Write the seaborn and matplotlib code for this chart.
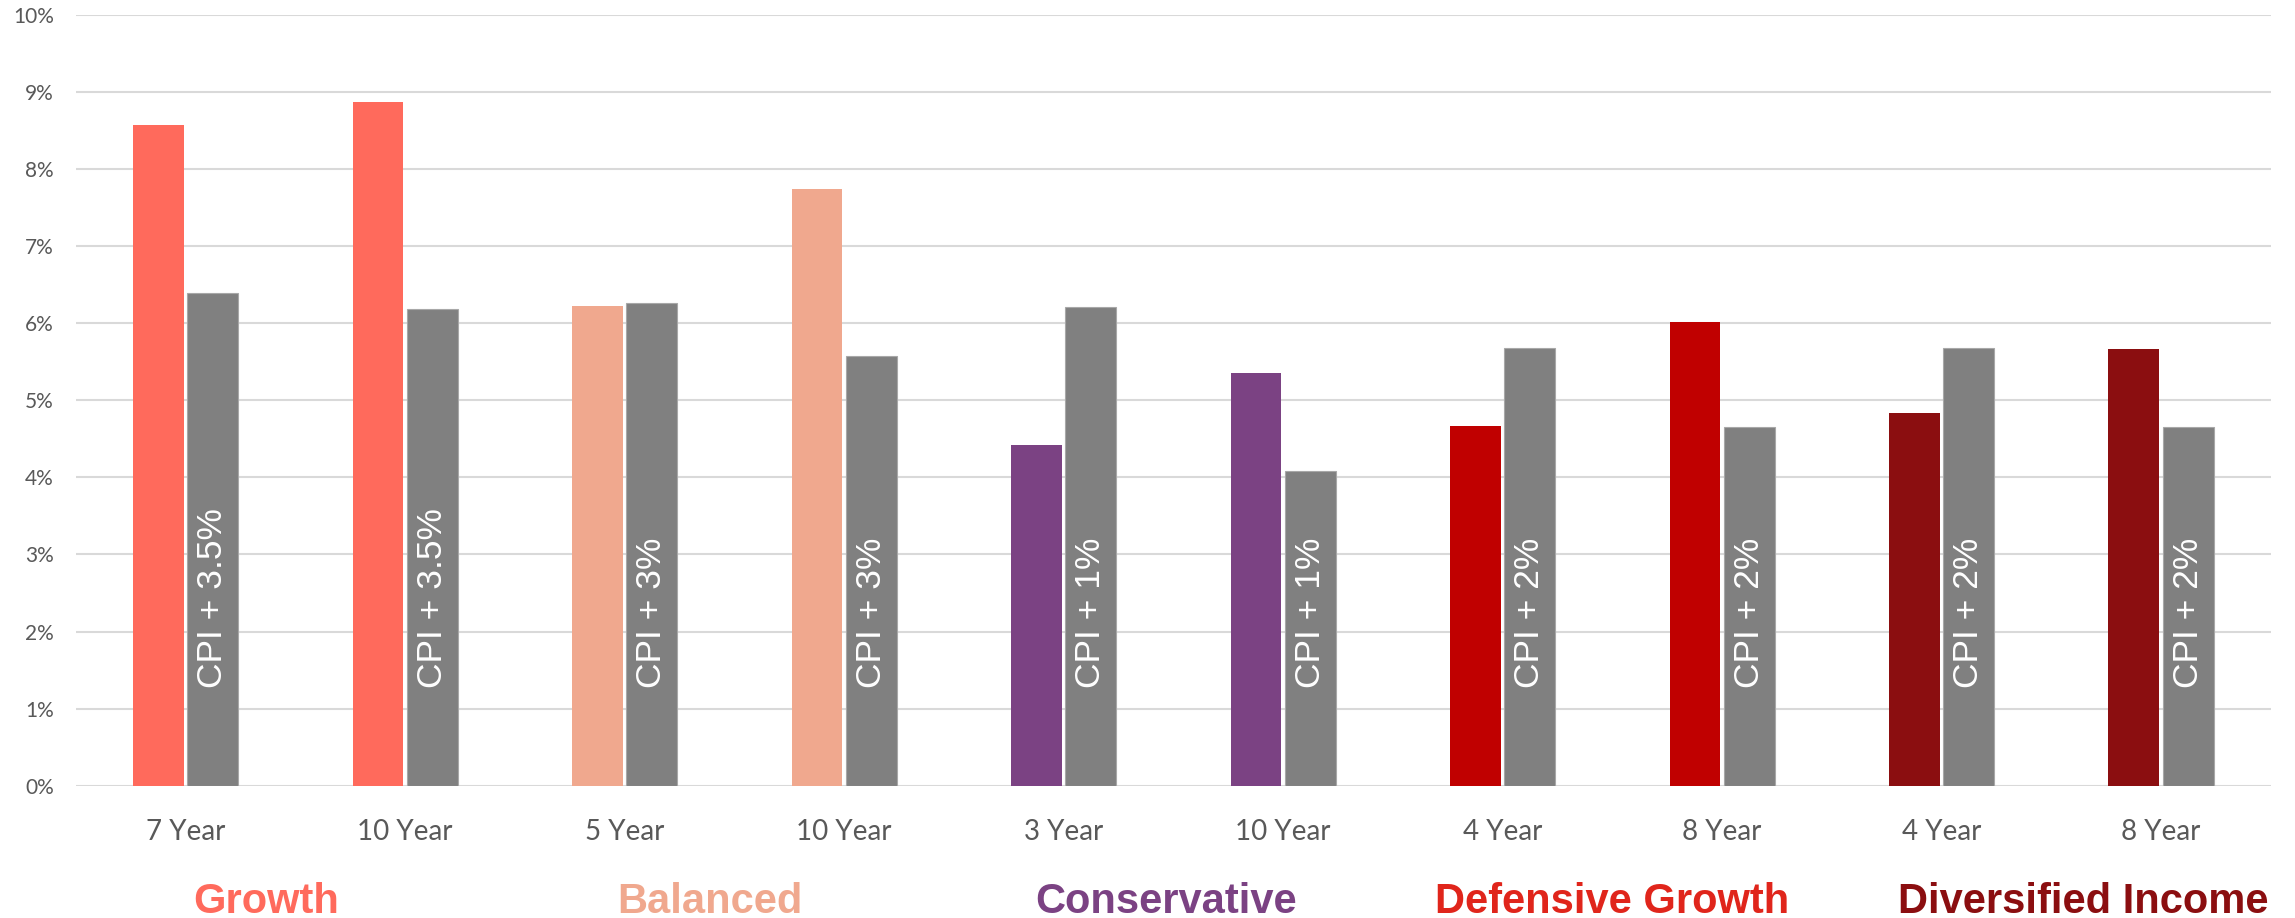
import matplotlib
matplotlib.use("Agg")
import matplotlib.pyplot as plt
import seaborn as sns
import pandas as pd

# Fund returns vs. CPI-linked objectives (annualised, %)
periods = ["7 Year", "10 Year", "5 Year", "10 Year", "3 Year",
           "10 Year", "4 Year", "8 Year", "4 Year", "8 Year"]
fund_return = [8.57, 8.87, 6.23, 7.74, 4.42, 5.35, 4.67, 6.02, 4.83, 5.66]
objective_return = [6.39, 6.19, 6.26, 5.58, 6.21, 4.08, 5.68, 4.66, 5.68, 4.66]
objective_labels = ["CPI + 3.5%", "CPI + 3.5%", "CPI + 3%", "CPI + 3%",
                    "CPI + 1%", "CPI + 1%", "CPI + 2%", "CPI + 2%",
                    "CPI + 2%", "CPI + 2%"]
fund_names = ["Growth", "Balanced", "Conservative",
              "Defensive Growth", "Diversified Income"]
fund_of_period = [0, 0, 1, 1, 2, 2, 3, 3, 4, 4]
y_ticks = [0, 1, 2, 3, 4, 5, 6, 7, 8, 9, 10]

# Styling
bar_colors = ["#FF6A5C", "#F0A88E", "#7B4283", "#C00000", "#8B0E10"]
name_colors = ["#FF6A5C", "#F0A88E", "#7B4283", "#E0251B", "#8B0E10"]
objective_color = "#808080"
name_nudge = [-0.135, -0.11, -0.035, 0.0, 0.145]

df = pd.DataFrame({
    "slot": list(range(len(periods))) * 2,
    "series": ["Fund"] * len(periods) + ["Objective"] * len(periods),
    "value": fund_return + objective_return,
})

sns.set_theme(style="white")
plt.rcParams["font.family"] = ["Lato", "DejaVu Sans"]

fig = plt.figure(figsize=(22.95, 9.18), dpi=100)
ax = fig.add_axes([0.0331, 0.14412, 0.9564, 0.83954])

sns.barplot(data=df, x="slot", y="value", hue="series",
            palette={"Fund": bar_colors[0], "Objective": objective_color},
            width=0.496, gap=0.065, dodge=True, legend=False,
            linewidth=0, ax=ax, zorder=3)

# colour each fund bar by its fund family
for patch, fi in zip(ax.containers[0], fund_of_period):
    patch.set_facecolor(bar_colors[fi])
    patch.set_edgecolor("none")
for patch in ax.containers[1]:
    patch.set_facecolor(objective_color)
    patch.set_edgecolor("#A8A8A8")
    patch.set_linewidth(0.8)

# objective labels written up the grey bars
for patch, lab in zip(ax.containers[1], objective_labels):
    cx = patch.get_x() + patch.get_width() / 2
    ax.text(cx, 1.27, lab, rotation=90, rotation_mode="anchor",
            ha="left", va="center", color="white", fontsize=25.5,
            family=["Liberation Sans", "DejaVu Sans"], zorder=4)

ax.set_xlim(-0.5, len(periods) - 0.5)
ax.set_ylim(0, 10)
ax.set_yticks(y_ticks)
ax.set_yticklabels([f"{t}%" for t in y_ticks])
ax.set_xticks(range(len(periods)))
ax.set_xticklabels(periods)
ax.set_xlabel("")
ax.set_ylabel("")
ax.yaxis.grid(True, color="#D9D9D9", linewidth=1.5, zorder=0)
ax.xaxis.grid(False)
ax.set_axisbelow(True)
for s in ax.spines.values():
    s.set_visible(False)
ax.tick_params(axis="y", length=0, pad=16, labelsize=15, labelcolor="#595959")
ax.tick_params(axis="x", length=0, pad=24, labelsize=20, labelcolor="#595959")

# fund family names beneath the period labels
for i, name in enumerate(fund_names):
    slots = [k for k, f in enumerate(fund_of_period) if f == i]
    xc = sum(slots) / len(slots) + name_nudge[i]
    xf = ax.transData.transform((xc, 0))[0] / fig.bbox.width
    fig.text(xf, 0.0054, name, ha="center", va="baseline",
             color=name_colors[i], fontsize=30, fontweight="bold",
             family=["Liberation Sans", "DejaVu Sans"])

fig.savefig("out.png", dpi=100)
